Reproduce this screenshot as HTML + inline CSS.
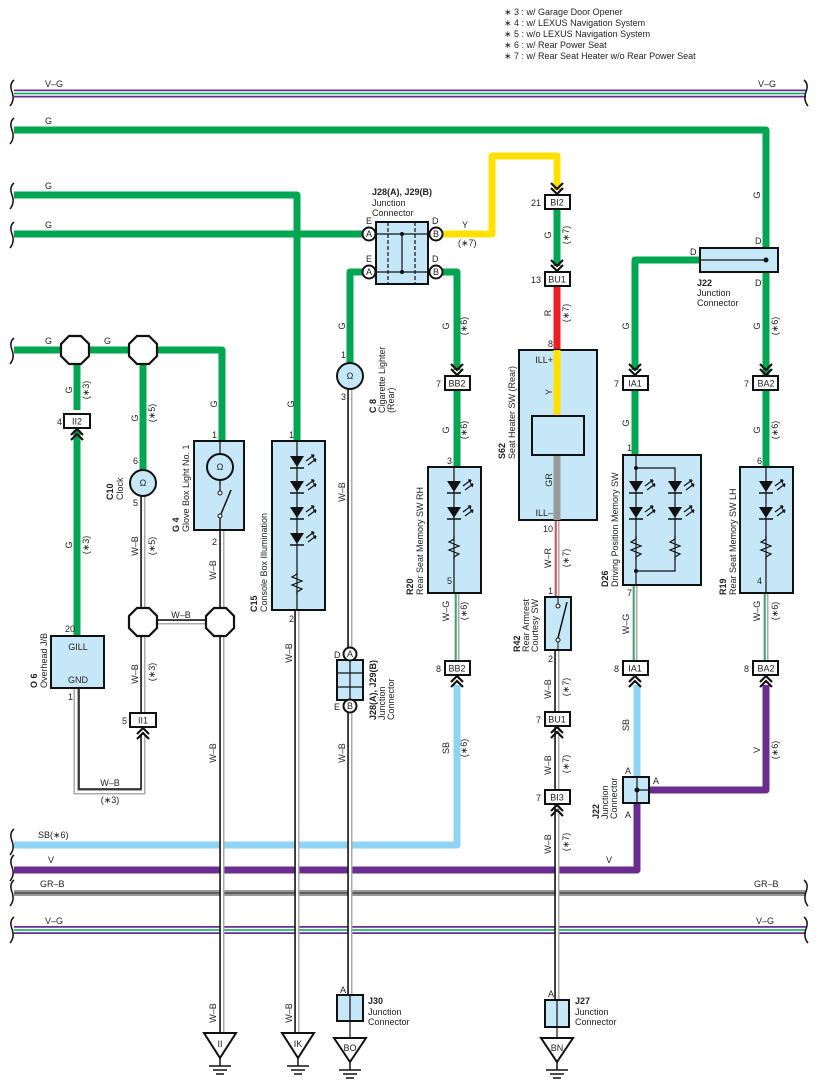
<!DOCTYPE html>
<html><head><meta charset="utf-8"><style>
html,body{margin:0;padding:0;background:#fff}
svg{display:block}
text{font-family:"Liberation Sans",sans-serif;font-size:9px;fill:#222}
.b{font-weight:bold}
</style></head><body>
<svg width="818" height="1092" viewBox="0 0 818 1092" xmlns="http://www.w3.org/2000/svg">
<defs>
<g id="chD"><polyline points="-6,-11 0,-5 6,-11" fill="none" stroke="#111" stroke-width="2.2"/><polyline points="-6,-6 0,0 6,-6" fill="none" stroke="#111" stroke-width="2.2"/></g>
<g id="chU"><polyline points="-6,11 0,5 6,11" fill="none" stroke="#111" stroke-width="2.2"/><polyline points="-6,6 0,0 6,6" fill="none" stroke="#111" stroke-width="2.2"/></g>
<g id="gnd"><line x1="0" y1="0" x2="0" y2="8" stroke="#111" stroke-width="1.5"/><line x1="-11" y1="8" x2="11" y2="8" stroke="#111" stroke-width="1.5"/><line x1="-7" y1="12" x2="7" y2="12" stroke="#111" stroke-width="1.5"/><line x1="-4" y1="16" x2="4" y2="16" stroke="#111" stroke-width="1.5"/></g>
<g id="oct"><polygon points="-6,-14 6,-14 14,-6 14,6 6,14 -6,14 -14,6 -14,-6" fill="#fff" stroke="#111" stroke-width="2.2"/></g>
<g id="led"><polygon points="-7,-6 7,-6 0,5" fill="#111"/><line x1="-7" y1="6" x2="7" y2="6" stroke="#111" stroke-width="1.5"/><path d="M9,-1 l8,-6 M11,3 l8,-6" stroke="#111" stroke-width="1.2"/><path d="M17,-7 l-3,0 M17,-7 l-1,3 M19,-3 l-3,0 M19,-3 l-1,3" stroke="#111" stroke-width="1.2"/></g>
<g id="res"><polyline points="0,-12 0,-9 -5,-6 5,-2 -5,2 5,6 0,9 0,12" fill="none" stroke="#111" stroke-width="1.2"/></g>
</defs>

<!-- notes -->
<text x="504" y="15">∗ 3 : w/ Garage Door Opener</text>
<text x="504" y="26">∗ 4 : w/ LEXUS Navigation System</text>
<text x="504" y="37">∗ 5 : w/o LEXUS Navigation System</text>
<text x="504" y="48">∗ 6 : w/ Rear Power Seat</text>
<text x="504" y="59">∗ 7 : w/ Rear Seat Heater w/o Rear Power Seat</text>

<!-- buses -->
<g>
<line x1="14" y1="93.5" x2="806" y2="93.5" stroke="#6a2c8f" stroke-width="8"/>
<line x1="14" y1="93.5" x2="806" y2="93.5" stroke="#fff" stroke-width="4.5"/>
<line x1="14" y1="93.5" x2="806" y2="93.5" stroke="#00a651" stroke-width="1.5"/>
<text x="45" y="87">V–G</text><text x="758" y="87">V–G</text>
<line x1="14" y1="930" x2="806" y2="930" stroke="#6a2c8f" stroke-width="8"/>
<line x1="14" y1="930" x2="806" y2="930" stroke="#fff" stroke-width="4.5"/>
<line x1="14" y1="930" x2="806" y2="930" stroke="#00a651" stroke-width="1.5"/>
<text x="45" y="924">V–G</text><text x="756" y="924">V–G</text>
<line x1="14" y1="893" x2="806" y2="893" stroke="#999" stroke-width="6"/>
<line x1="14" y1="893" x2="806" y2="893" stroke="#222" stroke-width="1"/>
<text x="40" y="887">GR–B</text><text x="754" y="887">GR–B</text>
</g>

<!-- G lines -->
<g fill="none" stroke="#00a651" stroke-width="7" stroke-linejoin="round">
<polyline points="14,130 766,130 766,378"/>
<polyline points="14,195 297,195 297,441"/>
<polyline points="14,234 363,234"/>
<polyline points="369,272 350,272 350,364"/>
<polyline points="436,272 457,272 457,370"/>
<polyline points="14,350 222,350 222,441"/>
<line x1="77" y1="350" x2="77" y2="410"/>
<line x1="77" y1="430" x2="77" y2="636"/>
<line x1="143" y1="350" x2="143" y2="470"/>
<line x1="557" y1="209" x2="557" y2="266"/>
<polyline points="700,260 635,260 635,370"/>
<line x1="635" y1="390" x2="635" y2="456"/>
<line x1="766" y1="390" x2="766" y2="468"/>
<line x1="457" y1="390" x2="457" y2="468"/>
</g>
<text x="45" y="124">G</text><text x="45" y="189">G</text><text x="45" y="228">G</text><text x="45" y="344">G</text><text x="104" y="344">G</text>
<!-- Y wire -->
<polyline points="442,234 492,234 492,156 557,156 557,190" fill="none" stroke="#ffe000" stroke-width="7" stroke-linejoin="round"/>
<text x="462" y="228">Y</text><text x="458" y="246">(∗7)</text>
<line x1="557" y1="286" x2="557" y2="350" stroke="#ee1c25" stroke-width="7"/>

<!-- SB and V lines -->
<polyline points="14,845 457,845 457,685" fill="none" stroke="#8fd3f5" stroke-width="7" stroke-linejoin="round"/>
<line x1="637" y1="685" x2="637" y2="778" stroke="#8fd3f5" stroke-width="7"/>
<polyline points="14,870 637,870 637,803" fill="none" stroke="#6a2c8f" stroke-width="7" stroke-linejoin="round"/>
<polyline points="650,790 766,790 766,685" fill="none" stroke="#6a2c8f" stroke-width="7" stroke-linejoin="round"/>
<text x="38" y="838">SB(∗6)</text><text x="48" y="863">V</text><text x="606" y="863">V</text>

<!-- W-B double lines -->
<g fill="none" stroke-linejoin="miter">
<g stroke="#aaa" stroke-width="5">
<line x1="143" y1="496" x2="143" y2="713"/>
<polyline points="143,735 143,792 76,792 76,688"/>
<line x1="222" y1="530" x2="222" y2="1033"/>
<line x1="297" y1="610" x2="297" y2="1033"/>
<line x1="350" y1="389" x2="350" y2="995"/>
<line x1="557" y1="650" x2="557" y2="1000"/>
<line x1="157" y1="622" x2="206" y2="622"/>
</g>
<g stroke="#fff" stroke-width="2">
<line x1="143" y1="496" x2="143" y2="713"/>
<polyline points="143,735 143,792 76,792 76,688"/>
<line x1="222" y1="530" x2="222" y2="1033"/>
<line x1="297" y1="610" x2="297" y2="1033"/>
<line x1="350" y1="389" x2="350" y2="995"/>
<line x1="557" y1="650" x2="557" y2="1000"/>
<line x1="157" y1="622" x2="206" y2="622"/>
</g>
<g stroke="#111" stroke-width="1.5">
<line x1="141" y1="496" x2="141" y2="713"/>
<polyline points="141,735 141,789 79,789 79,688"/>
<line x1="220" y1="530" x2="220" y2="1033"/>
<line x1="295" y1="610" x2="295" y2="1033"/>
<line x1="348" y1="389" x2="348" y2="995"/>
<line x1="555" y1="650" x2="555" y2="1000"/>
<line x1="157" y1="620" x2="206" y2="620"/>
</g>
<!-- W-G / W-R thin -->
<g stroke="#aaa" stroke-width="5"><line x1="457" y1="593" x2="457" y2="661"/><line x1="635" y1="585" x2="635" y2="661"/><line x1="766" y1="593" x2="766" y2="661"/><line x1="557" y1="520" x2="557" y2="597"/></g>
<g stroke="#fff" stroke-width="2"><line x1="457" y1="593" x2="457" y2="661"/><line x1="635" y1="585" x2="635" y2="661"/><line x1="766" y1="593" x2="766" y2="661"/><line x1="557" y1="520" x2="557" y2="597"/></g>
<g stroke="#00a651" stroke-width="1.3"><line x1="456" y1="593" x2="456" y2="661"/><line x1="634" y1="585" x2="634" y2="661"/><line x1="765" y1="593" x2="765" y2="661"/></g>
<line x1="556" y1="520" x2="556" y2="597" stroke="#ee1c25" stroke-width="1.3"/>
</g>

<!-- octagons -->
<use href="#oct" x="75" y="350"/><use href="#oct" x="143" y="350"/>
<use href="#oct" x="143" y="622"/><use href="#oct" x="220" y="622"/>

<!-- connector boxes -->
<g fill="#fff" stroke="#111" stroke-width="2">
<rect x="64" y="414" width="26" height="14"/><rect x="130" y="713" width="26" height="14"/>
<rect x="545" y="195" width="25" height="14"/><rect x="545" y="272" width="25" height="14"/>
<rect x="445" y="376" width="25" height="14"/><rect x="623" y="376" width="25" height="14"/><rect x="753" y="376" width="25" height="14"/>
<rect x="445" y="661" width="25" height="14"/><rect x="623" y="661" width="25" height="14"/><rect x="753" y="661" width="25" height="14"/>
<rect x="545" y="712" width="25" height="14"/><rect x="545" y="790" width="25" height="14"/>
</g>
<g text-anchor="middle">
<text x="77" y="424.5">II2</text><text x="143" y="723.5">II1</text>
<text x="557" y="205.5">BI2</text><text x="557" y="282.5">BU1</text>
<text x="457" y="386.5">BB2</text><text x="635" y="386.5">IA1</text><text x="766" y="386.5">BA2</text>
<text x="457" y="671.5">BB2</text><text x="635" y="671.5">IA1</text><text x="766" y="671.5">BA2</text>
<text x="557" y="722.5">BU1</text><text x="557" y="800.5">BI3</text>
</g>
<g text-anchor="end">
<text x="62" y="425">4</text><text x="127" y="724">5</text><text x="541" y="206">21</text><text x="541" y="283">13</text>
<text x="441" y="387">7</text><text x="619" y="387">7</text><text x="749" y="387">7</text>
<text x="441" y="672">8</text><text x="619" y="672">8</text><text x="749" y="672">8</text>
<text x="541" y="723">7</text><text x="541" y="801">7</text>
</g>
<use href="#chU" x="77" y="429"/><use href="#chU" x="143" y="728"/>
<use href="#chD" x="557" y="194"/><use href="#chD" x="557" y="271"/>
<use href="#chD" x="457" y="375"/><use href="#chD" x="635" y="375"/><use href="#chD" x="766" y="375"/>
<use href="#chU" x="457" y="676"/><use href="#chU" x="635" y="676"/><use href="#chU" x="766" y="676"/>
<use href="#chU" x="557" y="727"/><use href="#chU" x="557" y="805"/>

<!-- component boxes -->
<g fill="#c6e7f8" stroke="#111" stroke-width="2">
<rect x="51" y="636" width="53" height="52"/>
<rect x="194" y="441" width="50" height="89"/>
<rect x="272" y="441" width="53" height="169"/>
<rect x="376" y="222" width="52" height="62"/>
<rect x="428" y="467" width="53" height="126"/>
<rect x="519" y="350" width="78" height="170"/>
<rect x="623" y="455" width="78" height="130"/>
<rect x="740" y="467" width="53" height="126"/>
<rect x="700" y="248" width="78" height="24"/>
<rect x="545" y="597" width="26" height="53"/>
<rect x="337" y="660" width="26" height="40"/>
<rect x="623" y="777" width="26" height="26"/>
<rect x="337" y="995" width="26" height="26"/>
<rect x="545" y="1000" width="24" height="27"/>
</g>
<!-- S62 internals -->
<line x1="557" y1="350" x2="557" y2="416" stroke="#ffe000" stroke-width="7"/>
<line x1="557" y1="455" x2="557" y2="520" stroke="#999" stroke-width="7"/>
<rect x="532" y="416" width="52" height="39" fill="#c6e7f8" stroke="#111" stroke-width="2"/>
<text x="553" y="363" text-anchor="end">ILL+</text><text x="553" y="516" text-anchor="end">ILL–</text>
<text x="552" y="392" transform="rotate(-90 552 392)" text-anchor="middle">Y</text>
<text x="552" y="480" transform="rotate(-90 552 480)" text-anchor="middle">GR</text>
<text x="553" y="347" text-anchor="end">8</text><text x="553" y="532" text-anchor="end">10</text>
<text x="553" y="594" text-anchor="end">1</text><text x="553" y="662" text-anchor="end">2</text>

<!-- J28 internals -->
<g stroke="#111" stroke-width="1.2" fill="none">
<line x1="376" y1="234" x2="428" y2="234"/><line x1="376" y1="272" x2="428" y2="272"/>
<line x1="402" y1="234" x2="402" y2="272"/>
<line x1="388" y1="222" x2="388" y2="284" stroke-dasharray="4,2"/><line x1="415" y1="222" x2="415" y2="284" stroke-dasharray="4,2"/>
<line x1="350" y1="660" x2="350" y2="700"/><line x1="337" y1="673" x2="363" y2="673"/><line x1="337" y1="687" x2="363" y2="687"/>
<line x1="700" y1="260" x2="766" y2="260"/>
<line x1="637" y1="777" x2="637" y2="803"/><line x1="637" y1="790" x2="649" y2="790"/>
<line x1="350" y1="995" x2="350" y2="1040"/><line x1="557" y1="1000" x2="557" y2="1040"/>
</g>
<circle cx="402" cy="234" r="2" fill="#111"/><circle cx="402" cy="272" r="2" fill="#111"/><circle cx="766" cy="260" r="2.5" fill="#111"/><circle cx="637" cy="790" r="2.5" fill="#111"/>
<g fill="#fff" stroke="#111" stroke-width="2">
<circle cx="369" cy="234" r="6.5"/><circle cx="369" cy="272" r="6.5"/><circle cx="436" cy="234" r="6.5"/><circle cx="436" cy="272" r="6.5"/>
<circle cx="350" cy="654" r="6.5"/><circle cx="350" cy="706" r="6.5"/>
</g>
<g text-anchor="middle" font-size="8">
<text x="369" y="237">A</text><text x="369" y="275">A</text><text x="436" y="237">B</text><text x="436" y="275">B</text>
<text x="350" y="657">A</text><text x="350" y="709">B</text>
</g>
<text x="366" y="224">E</text><text x="366" y="262">E</text><text x="432" y="224">D</text><text x="432" y="262">D</text>
<text x="334" y="658">D</text><text x="334" y="710">E</text>
<text x="372" y="195" class="b">J28(A), J29(B)</text><text x="372" y="206">Junction</text><text x="372" y="216">Connector</text>
<text x="690" y="255">D</text><text x="755" y="244">D</text><text x="755" y="286">D</text>
<text x="697" y="286" class="b">J22</text><text x="697" y="296">Junction</text><text x="697" y="306">Connector</text>
<text x="625" y="774">A</text><text x="625" y="818">A</text><text x="653" y="784">A</text>
<text x="340" y="993">A</text><text x="548" y="997">A</text>
<text x="368" y="1004" class="b">J30</text><text x="368" y="1015">Junction</text><text x="368" y="1025">Connector</text>
<text x="575" y="1004" class="b">J27</text><text x="575" y="1015">Junction</text><text x="575" y="1025">Connector</text>
<text x="78" y="650" text-anchor="middle">GILL</text><text x="78" y="683" text-anchor="middle">GND</text>
<text x="75" y="632" text-anchor="end">20</text><text x="73" y="700" text-anchor="end">1</text>

<!-- clock, lighter -->
<circle cx="143" cy="483" r="13" fill="#c6e7f8" stroke="#111" stroke-width="2"/>
<circle cx="350" cy="376" r="13" fill="#c6e7f8" stroke="#111" stroke-width="2"/>
<text x="143" y="486" text-anchor="middle" font-size="8">Ω</text><text x="350" y="379" text-anchor="middle" font-size="8">Ω</text>
<!-- glove box -->
<line x1="220" y1="441" x2="220" y2="530" stroke="#111" stroke-width="1.2"/>
<circle cx="220" cy="467" r="13" fill="#c6e7f8" stroke="#111" stroke-width="2"/>
<text x="220" y="470" text-anchor="middle" font-size="8">Ω</text>
<rect x="214" y="485" width="12" height="30" fill="#c6e7f8"/>
<line x1="220" y1="480" x2="220" y2="491" stroke="#111" stroke-width="1.2"/><line x1="220" y1="518" x2="220" y2="530" stroke="#111" stroke-width="1.2"/>
<circle cx="220" cy="493" r="2" fill="#fff" stroke="#111"/><circle cx="220" cy="516" r="2" fill="#fff" stroke="#111"/>
<line x1="221" y1="514" x2="231" y2="490" stroke="#111" stroke-width="1.5"/>
<!-- R42 -->
<line x1="558" y1="597" x2="558" y2="604" stroke="#111"/><line x1="558" y1="640" x2="558" y2="650" stroke="#111"/>
<circle cx="558" cy="606" r="2" fill="#fff" stroke="#111"/><circle cx="558" cy="640" r="2" fill="#fff" stroke="#111"/>
<line x1="558" y1="638" x2="567" y2="602" stroke="#111" stroke-width="1.5"/>
<!-- C15 -->
<line x1="297" y1="441" x2="297" y2="610" stroke="#111" stroke-width="1.2"/>
<use href="#led" x="297" y="462"/><use href="#led" x="297" y="487"/><use href="#led" x="297" y="513"/><use href="#led" x="297" y="539"/>
<use href="#res" x="297" y="583"/>
<!-- R20 -->
<line x1="454" y1="467" x2="454" y2="593" stroke="#111" stroke-width="1.2"/>
<use href="#led" x="454" y="487"/><use href="#led" x="454" y="513"/><use href="#res" x="454" y="548"/>
<!-- R19 -->
<line x1="766" y1="467" x2="766" y2="593" stroke="#111" stroke-width="1.2"/>
<use href="#led" x="766" y="487"/><use href="#led" x="766" y="513"/><use href="#res" x="766" y="548"/>
<!-- D26 -->
<polyline points="636,455 636,585" fill="none" stroke="#111" stroke-width="1.2"/>
<polyline points="636,468 675,468 675,571 636,571" fill="none" stroke="#111" stroke-width="1.2"/>
<circle cx="636" cy="468" r="2" fill="#111"/><circle cx="636" cy="571" r="2" fill="#111"/>
<use href="#led" x="636" y="487"/><use href="#led" x="636" y="513"/><use href="#res" x="636" y="548"/>
<use href="#led" x="675" y="487"/><use href="#led" x="675" y="513"/><use href="#res" x="675" y="548"/>

<!-- grounds -->
<g fill="#fff" stroke="#111" stroke-width="2">
<polygon points="204,1033 236,1033 220,1058"/><polygon points="282,1033 314,1033 298,1058"/>
<polygon points="334,1038 366,1038 350,1062"/><polygon points="541,1038 573,1038 557,1062"/>
</g>
<text x="220" y="1047" text-anchor="middle" font-size="8">II</text><text x="298" y="1047" text-anchor="middle" font-size="8">IK</text>
<text x="350" y="1051" text-anchor="middle" font-size="8">BO</text><text x="557" y="1051" text-anchor="middle" font-size="8">BN</text>
<use href="#gnd" x="220" y="1058"/><use href="#gnd" x="298" y="1058"/><use href="#gnd" x="350" y="1062"/><use href="#gnd" x="557" y="1062"/>

<!-- brace marks -->
<g fill="none" stroke="#111" stroke-width="1.5">
<path d="M14,80 q-5,4 -2,12 q3,8 -2,14"/><path d="M14,118 q-5,4 -2,12 q3,8 -2,14"/><path d="M14,183 q-5,4 -2,12 q3,8 -2,14"/><path d="M14,222 q-5,4 -2,12 q3,8 -2,14"/><path d="M14,338 q-5,4 -2,12 q3,8 -2,14"/>
<path d="M14,829 q-5,4 -2,12 q3,8 -2,14"/><path d="M14,855 q-5,4 -2,12 q3,8 -2,14"/><path d="M14,880 q-5,4 -2,12 q3,8 -2,14"/><path d="M14,917 q-5,4 -2,12 q3,8 -2,14"/>
<path d="M804,80 q5,4 2,12 q-3,8 2,14"/><path d="M804,880 q5,4 2,12 q-3,8 2,14"/><path d="M804,917 q5,4 2,12 q-3,8 2,14"/>
</g>

<!-- vertical wire labels -->
<g text-anchor="middle">
<text transform="translate(72,390) rotate(-90)">G</text><text transform="translate(89,390) rotate(-90)">(∗3)</text>
<text transform="translate(72,545) rotate(-90)">G</text><text transform="translate(89,545) rotate(-90)">(∗3)</text>
<text transform="translate(138,418) rotate(-90)">G</text><text transform="translate(155,413) rotate(-90)">(∗5)</text>
<text transform="translate(138,546) rotate(-90)">W–B</text><text transform="translate(155,546) rotate(-90)">(∗5)</text>
<text transform="translate(138,674) rotate(-90)">W–B</text><text transform="translate(155,672) rotate(-90)">(∗3)</text>
<text transform="translate(217,404) rotate(-90)">G</text><text transform="translate(294,404) rotate(-90)">G</text>
<text transform="translate(216,570) rotate(-90)">W–B</text><text transform="translate(216,753) rotate(-90)">W–B</text><text transform="translate(216,1013) rotate(-90)">W–B</text>
<text transform="translate(292,653) rotate(-90)">W–B</text><text transform="translate(292,1013) rotate(-90)">W–B</text>
<text transform="translate(345,326) rotate(-90)">G</text><text transform="translate(345,492) rotate(-90)">W–B</text><text transform="translate(345,753) rotate(-90)">W–B</text>
<text transform="translate(449,326) rotate(-90)">G</text><text transform="translate(467,326) rotate(-90)">(∗6)</text>
<text transform="translate(449,430) rotate(-90)">G</text><text transform="translate(467,430) rotate(-90)">(∗6)</text>
<text transform="translate(449,611) rotate(-90)">W–G</text><text transform="translate(467,611) rotate(-90)">(∗6)</text>
<text transform="translate(449,748) rotate(-90)">SB</text><text transform="translate(467,748) rotate(-90)">(∗6)</text>
<text transform="translate(551,235) rotate(-90)">G</text><text transform="translate(569,235) rotate(-90)">(∗7)</text>
<text transform="translate(551,313) rotate(-90)">R</text><text transform="translate(569,313) rotate(-90)">(∗7)</text>
<text transform="translate(551,558) rotate(-90)">W–R</text><text transform="translate(569,558) rotate(-90)">(∗7)</text>
<text transform="translate(551,689) rotate(-90)">W–B</text><text transform="translate(569,687) rotate(-90)">(∗7)</text>
<text transform="translate(551,765) rotate(-90)">W–B</text><text transform="translate(569,764) rotate(-90)">(∗7)</text>
<text transform="translate(551,844) rotate(-90)">W–B</text><text transform="translate(569,842) rotate(-90)">(∗7)</text>
<text transform="translate(629,326) rotate(-90)">G</text><text transform="translate(629,423) rotate(-90)">G</text>
<text transform="translate(629,624) rotate(-90)">W–G</text><text transform="translate(629,725) rotate(-90)">SB</text>
<text transform="translate(760,195) rotate(-90)">G</text><text transform="translate(760,326) rotate(-90)">G</text><text transform="translate(778,326) rotate(-90)">(∗6)</text>
<text transform="translate(760,430) rotate(-90)">G</text><text transform="translate(778,430) rotate(-90)">(∗6)</text>
<text transform="translate(760,611) rotate(-90)">W–G</text><text transform="translate(778,611) rotate(-90)">(∗6)</text>
<text transform="translate(760,750) rotate(-90)">V</text><text transform="translate(778,750) rotate(-90)">(∗6)</text>
</g>
<text x="181" y="618" text-anchor="middle">W–B</text>
<text x="110" y="786" text-anchor="middle">W–B</text><text x="110" y="803" text-anchor="middle">(∗3)</text>

<!-- pin numbers -->
<text x="138" y="464" text-anchor="end">6</text><text x="138" y="506" text-anchor="end">5</text>
<text x="217" y="438" text-anchor="end">1</text><text x="217" y="545" text-anchor="end">2</text>
<text x="294" y="438" text-anchor="end">1</text><text x="294" y="622" text-anchor="end">2</text>
<text x="346" y="358" text-anchor="end">1</text><text x="346" y="400" text-anchor="end">3</text>
<text x="452" y="464" text-anchor="end">3</text><text x="452" y="584" text-anchor="end">5</text>
<text x="632" y="451" text-anchor="end">1</text><text x="632" y="596" text-anchor="end">7</text>
<text x="762" y="464" text-anchor="end">6</text><text x="762" y="584" text-anchor="end">4</text>

<!-- component names (vertical) -->
<g>
<text transform="translate(37,688) rotate(-90)" class="b">O 6</text><text transform="translate(47,688) rotate(-90)">Overhead J/B</text>
<text transform="translate(113,500) rotate(-90)" class="b">C10</text><text transform="translate(123,500) rotate(-90)">Clock</text>
<text transform="translate(179,532) rotate(-90)" class="b">G 4</text><text transform="translate(189,532) rotate(-90)">Glove Box Light No. 1</text>
<text transform="translate(257,612) rotate(-90)" class="b">C15</text><text transform="translate(267,612) rotate(-90)">Console Box Illumination</text>
<text transform="translate(376,413) rotate(-90)" class="b">C 8</text><text transform="translate(385,413) rotate(-90)">Cigarette Lighter</text><text transform="translate(394,413) rotate(-90)">(Rear)</text>
<text transform="translate(376,720) rotate(-90)" class="b">J28(A), J29(B)</text><text transform="translate(385,720) rotate(-90)">Junction</text><text transform="translate(394,720) rotate(-90)">Connector</text>
<text transform="translate(413,595) rotate(-90)" class="b">R20</text><text transform="translate(423,595) rotate(-90)">Rear Seat Memory SW RH</text>
<text transform="translate(505,459) rotate(-90)" class="b">S62</text><text transform="translate(515,459) rotate(-90)">Seat Heater SW (Rear)</text>
<text transform="translate(520,652) rotate(-90)" class="b">R42</text><text transform="translate(529,652) rotate(-90)">Rear Armrest</text><text transform="translate(538,652) rotate(-90)">Courtesy SW</text>
<text transform="translate(608,587) rotate(-90)" class="b">D26</text><text transform="translate(618,587) rotate(-90)">Driving Position Memory SW</text>
<text transform="translate(599,819) rotate(-90)" class="b">J22</text><text transform="translate(608,819) rotate(-90)">Junction</text><text transform="translate(617,819) rotate(-90)">Connector</text>
<text transform="translate(726,595) rotate(-90)" class="b">R19</text><text transform="translate(736,595) rotate(-90)">Rear Seat Memory SW LH</text>
</g>
</svg>
</body></html>
